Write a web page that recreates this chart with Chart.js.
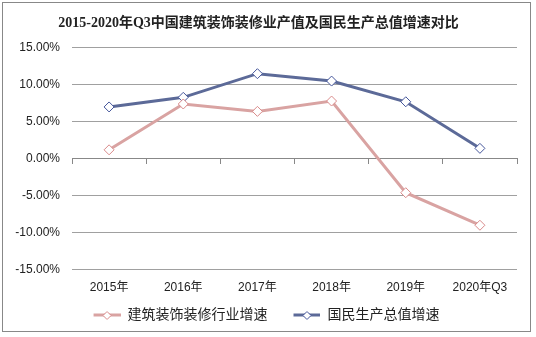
<!DOCTYPE html>
<html>
<head>
<meta charset="utf-8">
<script src="https://cdn.jsdelivr.net/npm/chart.js@4.4.1/dist/chart.umd.min.js"></script>
<style>
    html, body { margin: 0; padding: 0; background: #fff; }
    #wrap { position: relative; width: 536px; height: 337px; }
    #frame { position: absolute; left: 2px; top: 2px; width: 529px; height: 330px; border: 1px solid #888; box-sizing: border-box; pointer-events: none; }
</style>
</head>
<body>
<div id="wrap">
    <canvas id="line_chart" width="536" height="337"></canvas>
    <div id="frame"></div>
</div>
<script>
const categories = ['2015年', '2016年', '2017年', '2018年', '2019年', '2020年Q3'];
const decorGrowth = [1.2, 7.4, 6.4, 7.8, -4.6, -9.0];
const gdpGrowth = [7.0, 8.3, 11.5, 10.5, 7.7, 1.4];
const seriesNames = ['建筑装饰装修行业增速', '国民生产总值增速'];
const yTicks = [-15, -10, -5, 0, 5, 10, 15];

const FONT = '"Liberation Sans", Arial, "Noto Sans CJK SC", sans-serif';

// line + diamond icon for the legend (left part left blank as spacing)
function legendIcon(lineColor, markColor) {
    var c = document.createElement('canvas');
    c.width = 43;
    c.height = 12;
    var g = c.getContext('2d');
    g.strokeStyle = lineColor;
    g.lineWidth = 3;
    g.beginPath();
    g.moveTo(16, 6);
    g.lineTo(43, 6);
    g.stroke();
    g.fillStyle = '#fff';
    g.strokeStyle = markColor;
    g.lineWidth = 1;
    g.beginPath();
    g.moveTo(29.5, 2.5);
    g.lineTo(33.5, 6.5);
    g.lineTo(29.5, 10.5);
    g.lineTo(25.5, 6.5);
    g.closePath();
    g.fill();
    g.stroke();
    return c;
}

const redLine = '#d9a3a2';
const redMark = '#d98a8a';
const blueLine = '#5c6a98';
const blueMark = '#44559a';
const icons = [legendIcon(redLine, redMark), legendIcon(blueLine, blueMark)];

var ctx = document.getElementById('line_chart').getContext('2d');
window.myLine = new Chart(ctx, {
    type: 'line',
    data: {
        labels: categories,
        datasets: [{
            label: seriesNames[0],
            data: decorGrowth,
            borderColor: redLine,
            borderWidth: 3,
            pointStyle: 'rectRot',
            pointRadius: 5,
            pointBorderWidth: 1,
            pointBorderColor: redMark,
            pointBackgroundColor: '#fff',
            xAxisID: 'x',
            tension: 0
        }, {
            label: seriesNames[1],
            data: gdpGrowth,
            borderColor: blueLine,
            borderWidth: 3,
            pointStyle: 'rectRot',
            pointRadius: 5,
            pointBorderWidth: 1,
            pointBorderColor: blueMark,
            pointBackgroundColor: '#fff',
            xAxisID: 'x',
            tension: 0
        }]
    },
    options: {
        responsive: false,
        animation: false,
        layout: { padding: { left: 0, right: 19, top: 0, bottom: 5 } },
        plugins: {
            title: {
                display: true,
                text: '2015-2020年Q3中国建筑装饰装修业产值及国民生产总值增速对比',
                color: '#222',
                font: { family: '"Liberation Serif", "Noto Sans CJK SC", serif', size: 14, weight: 'bold' },
                padding: { top: 15, bottom: 16 }
            },
            legend: {
                position: 'bottom',
                labels: {
                    usePointStyle: true,
                    pointStyleWidth: 43,
                    color: '#222',
                    padding: 10,
                    font: { family: FONT, size: 14 },
                    generateLabels: function (chart) {
                        var items = Chart.defaults.plugins.legend.labels.generateLabels(chart);
                        items.forEach(function (it, i) { it.pointStyle = icons[i]; });
                        return items;
                    }
                }
            },
            tooltip: { enabled: false }
        },
        scales: {
            y: {
                min: yTicks[0],
                max: yTicks[yTicks.length - 1],
                afterBuildTicks: function (scale) {
                    scale.ticks = yTicks.map(function (v) { return { value: v }; });
                },
                afterFit: function (scale) { scale.width = 72; },
                border: { display: false },
                grid: { color: '#a0a0a0', drawTicks: false },
                ticks: {
                    color: '#222',
                    padding: 12,
                    font: { family: FONT, size: 12 },
                    callback: function (v) { return v.toFixed(2) + '%'; }
                }
            },
            x: {
                type: 'category',
                position: { y: 0 },
                offset: true,
                border: { display: true, color: '#888', width: 1 },
                grid: { offset: true, drawOnChartArea: false, drawTicks: true, tickLength: 5, color: '#888' },
                ticks: { display: false }
            },
            x2: {
                type: 'category',
                labels: categories,
                position: 'bottom',
                offset: true,
                border: { display: false },
                grid: { display: false },
                ticks: {
                    color: '#222',
                    padding: 3,
                    maxRotation: 0,
                    font: { family: FONT, size: 12 }
                }
            }
        }
    }
});
</script>
</body>
</html>
